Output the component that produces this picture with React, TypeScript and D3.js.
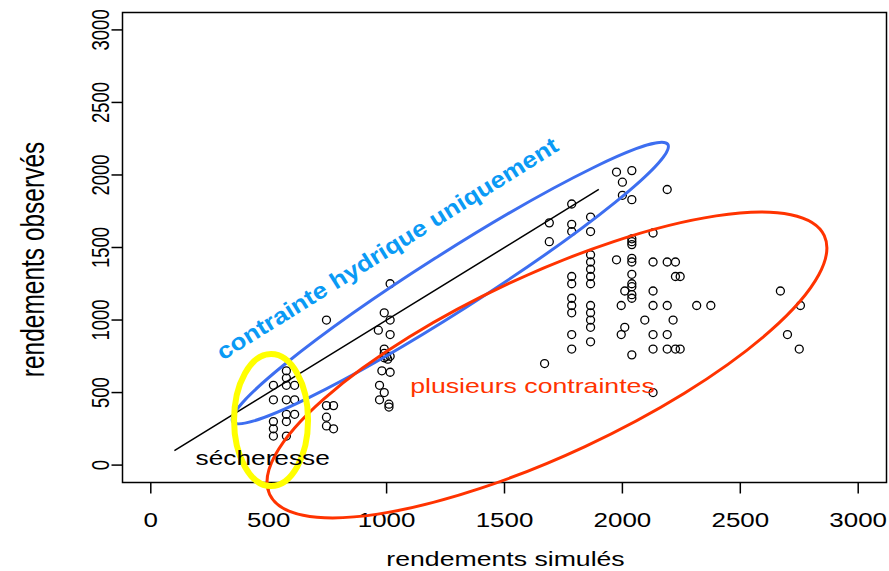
import * as d3 from "d3";
import React from "react";

// rendements simulés / observés (kg/ha)
const simules = [
  520, 520, 520, 520, 520, 575, 575, 575, 575, 575, 575, 575, 610, 610, 610,
  745, 745, 775, 745, 745, 775,
  1015, 990, 1015, 965, 1015, 990, 990, 990, 1000, 1015, 1005, 980, 1015, 970, 990, 970, 1010, 1010,
  1670, 1690, 1690, 1785, 1785, 1785, 1785, 1785, 1785, 1785, 1785, 1785, 1785,
  1865, 1865, 1865, 1865, 1865, 1865, 1865, 1865, 1865, 1865, 1865, 1865,
  1975, 2040, 2000, 2000, 2040, 2190, 2130, 2040, 2040, 2040, 1975, 2040, 2040, 2130, 2190, 2225,
  2225, 2245, 2040, 2040, 2040, 2010, 2130, 2040, 2040, 1995, 2130, 2190, 2315, 2375, 2095, 2215,
  2010, 1995, 2130, 2190, 2130, 2190, 2225, 2245, 2040, 2130,
  2670, 2755, 2700, 2750,
];
const observes = [
  550, 450, 300, 250, 200, 650, 600, 550, 450, 350, 300, 200, 550, 450, 350,
  1000, 410, 410, 330, 270, 250,
  1250, 1050, 1000, 930, 900, 800, 770, 740, 750, 750, 730, 650, 640, 550, 500, 450, 420, 400,
  700, 1670, 1540, 1800, 1660, 1610, 1300, 1250, 1150, 1100, 1050, 900, 800,
  1710, 1610, 1450, 1400, 1350, 1300, 1250, 1100, 1050, 1000, 950, 850,
  2020, 2030, 1950, 1860, 1830, 1900, 1600, 1560, 1540, 1520, 1415, 1425, 1400, 1400, 1400, 1400,
  1300, 1300, 1315, 1250, 1230, 1200, 1200, 1175, 1150, 1100, 1100, 1100, 1100, 1100, 1000, 1000,
  950, 900, 900, 900, 800, 800, 800, 800, 760, 500,
  1200, 1100, 900, 800,
];
const xTicks = [0, 500, 1000, 1500, 2000, 2500, 3000];
const yTicks = [0, 500, 1000, 1500, 2000, 2500, 3000];
const ligne11 = [100, 1900]; // droite 1:1

const W = 889, H = 571;
const left = 122.5, right = 886.5, top = 12.5, bottom = 482.5;

const x = d3.scaleLinear().domain([-120, 3120]).range([left, right]);
const y = d3.scaleLinear().domain([-120, 3120]).range([bottom, top]);

const font = "'Liberation Sans', Arial, Helvetica, sans-serif";

const App: React.FC = () => {
  const line = d3.line<number>().x(d => x(d)).y(d => y(d));

  // annotations (centre en unités des données)
  const blue = { cx: x(1270), cy: y(1255), rx: 258, ry: 29, a: -32.5 };
  const red = { cx: x(1680), cy: y(690), rx: 306, ry: 90, a: -25 };
  const yellow = { cx: x(510), cy: y(310), rx: 37, ry: 66, a: 0 };

  return (
    <svg width={W} height={H} style={{ position: "absolute", left: 0, top: 0, background: "white" }} fontFamily={font}>
      <rect x={left} y={top} width={right - left} height={bottom - top} fill="none" stroke="black" strokeWidth={1.5} />

      {xTicks.map(t => (
        <g key={"x" + t}>
          <line x1={x(t)} x2={x(t)} y1={bottom} y2={bottom + 11} stroke="black" strokeWidth={1.5} />
          <text transform={`translate(${x(t)},${bottom + 44}) scale(1.33,1)`} textAnchor="middle" fontSize={19.5}>{t}</text>
        </g>
      ))}
      {yTicks.map(t => (
        <g key={"y" + t}>
          <line x1={left} x2={left - 11} y1={y(t)} y2={y(t)} stroke="black" strokeWidth={1.5} />
          <text transform={`translate(${left - 14},${y(t)}) scale(1.25,1) rotate(-90)`} textAnchor="middle" fontSize={18.5}>{t}</text>
        </g>
      ))}

      <text transform={`translate(${(left + right) / 2 + 1},566) scale(1.3,1)`} textAnchor="middle" fontSize={20.5}>rendements simulés</text>
      <text transform={`translate(44,${(top + bottom) / 2 + 12}) scale(1.35,1) rotate(-90)`} textAnchor="middle" fontSize={24.5}>rendements observés</text>

      {simules.map((s, i) => (
        <circle key={i} cx={x(s)} cy={y(observes[i])} r={4} fill="none" stroke="black" strokeWidth={1.3} />
      ))}

      <path d={line(ligne11) || ""} stroke="black" strokeWidth={1.5} fill="none" />

      {[{ e: blue, c: "#3d6ef0", w: 3 }, { e: red, c: "#ff3300", w: 3 }, { e: yellow, c: "#ffff00", w: 6 }].map(({ e, c, w }, i) => (
        <ellipse key={i} cx={e.cx} cy={e.cy} rx={e.rx} ry={e.ry} fill="none" stroke={c} strokeWidth={w}
          transform={`rotate(${e.a} ${e.cx} ${e.cy})`} />
      ))}

      <text transform={`translate(${x(305)},${y(720)}) rotate(-32)`} fontSize={23} fontWeight="bold" fill="#0a9af5"
        textLength={398} lengthAdjust="spacingAndGlyphs">contrainte hydrique uniquement</text>
      <text transform={`translate(${x(1100)},${y(495)}) scale(1.27,1)`} fontSize={21} fill="#ff3300">plusieurs contraintes</text>
      <text transform={`translate(${x(190)},${y(0)}) scale(1.25,1)`} fontSize={21} fill="black">sécheresse</text>
    </svg>
  );
};

export default App;
